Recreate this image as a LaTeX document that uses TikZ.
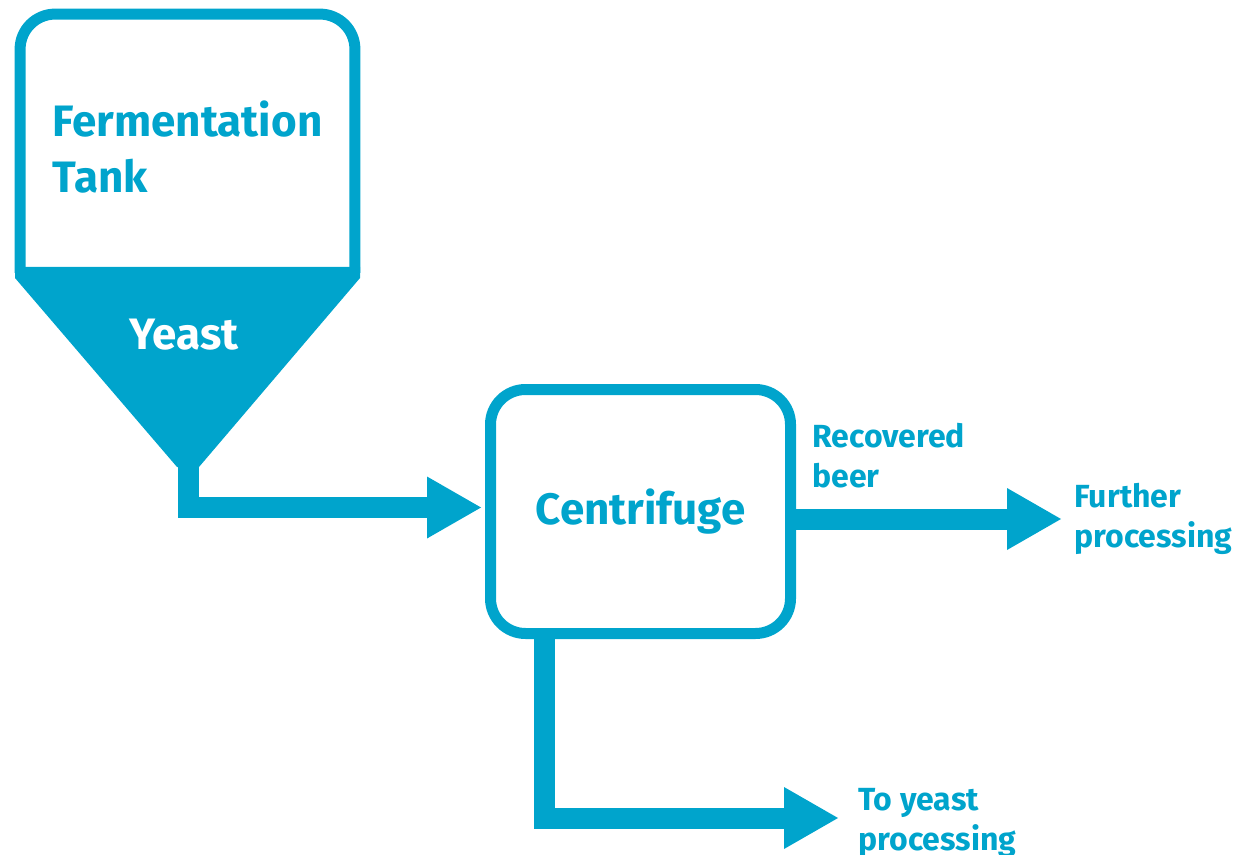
\documentclass[tikz,border=0pt]{standalone}
\usepackage{fontspec}
\setmainfont{Fira Sans}
\usetikzlibrary{arrows.meta}
\definecolor{brand}{HTML}{00A4CC}

\begin{document}
\begin{tikzpicture}[x=0.5pt,y=-0.5pt,
    box/.style={draw=brand,line width=5.5pt,rounded corners=17.5pt,inner sep=0pt},
    big/.style={text=brand,inner sep=0pt,font=\fontsize{22}{28}\selectfont\bfseries},
    small/.style={text=brand,inner sep=0pt,align=left,anchor=base west,
      font=\fontsize{16}{20}\selectfont\bfseries},
    flow/.style={draw=brand,line width=10.5pt,line join=miter,
      -{Triangle[length=27pt,width=31pt,line width=0pt 0 0]}}
  ]
  \useasboundingbox (0,0) rectangle (1241,855);

  % tank with its cone
  \node[big,align=left,minimum width=167pt,minimum height=129pt] (tank) at (187.5,143.5) {};
  \node[big,align=left] (tanktext) at (187.5,147.5) {Fermentation\\Tank};
  \draw[brand,line width=5.5pt,rounded corners=17.5pt]
    (tank.south west) -- (tank.north west) -- (tank.north east) -- (tank.south east);
  \fill[brand] (15,267) -- (360,267) -- (360,278) -- (199,467) -- (177,467) -- (15,278) -- cycle;
  \node[big,text=white,anchor=base] (yeast) at (184,350) {Yeast};
  \coordinate (tip) at (188,467);

  \node[box,big,minimum width=150pt,minimum height=122pt] (centrifuge) at (640.5,511.5) {Centrifuge};

  % labels (anchored on their second line)
  \node[small] (beer) at (812,487) {Recovered\\beer};
  \node[small] (further) at (1074,547) {Further\\processing};
  \node[small] (toyeast) at (858,850) {To yeast\\processing};
  \coordinate (beerout) at (1061,519);
  \coordinate (yeastout) at (838,818);

  \draw[flow,shorten >=2pt] (tip) |- ([yshift=2pt]centrifuge.west);
  \draw[flow] (centrifuge.east |- beerout) -- (beerout);
  \draw[flow] ([xshift=-48.25pt]centrifuge.south) |- (yeastout);
\end{tikzpicture}
\end{document}
